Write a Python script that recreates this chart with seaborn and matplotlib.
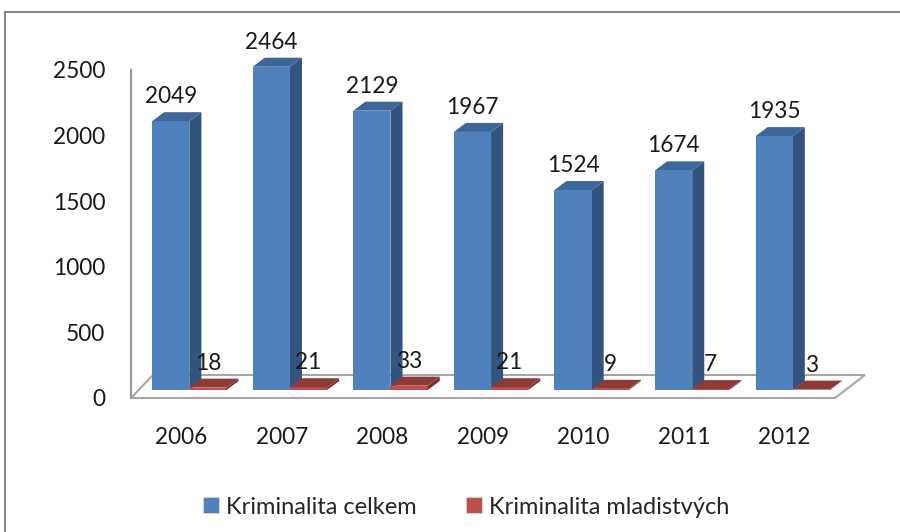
import pandas as pd
import seaborn as sns
import matplotlib.pyplot as plt
from matplotlib.patches import Polygon, Rectangle, Patch

# data
years = ["2006", "2007", "2008", "2009", "2010", "2011", "2012"]
celkem = [2049, 2464, 2129, 1967, 1524, 1674, 1935]
mladistvych = [18, 21, 33, 21, 9, 7, 3]
series = ["Kriminalita celkem", "Kriminalita mladistvých"]

df = pd.DataFrame({
    "rok": years * 2,
    "pocet": celkem + mladistvych,
    "rada": [series[0]] * len(years) + [series[1]] * len(years),
})

front = ["#4F81BD", "#C0504D"]
side = ["#325580", "#7E302E"]
top = ["#3D6699", "#8E3A37"]

sns.set_style("white")
plt.rcParams['font.family'] = ['Lato', 'DejaVu Sans']

fig = plt.figure(figsize=(9, 5.32), dpi=100)
ax = fig.add_axes([131 / 900, 1 - 398 / 532, 704 / 900, 328 / 532])

sns.barplot(data=df, x="rok", y="pocet", hue="rada", palette=front,
            width=0.74, gap=0, saturation=1, legend=False, ax=ax)

ax.set_ylim(0, 2500)
ax.set_xlim(-0.5, len(years) - 0.5)
ax.set_yticks(range(0, 2501, 500))
ax.set_xlabel("")
ax.set_ylabel("")

# fake 3D depth: bars sit mid-floor, with side and top faces
px = 2500 / 328
lift = 8 * px
dx = 0.12
dy = 9 * px
for i, cont in enumerate(ax.containers):
    for p in cont.patches:
        p.set_x(p.get_x() + 0.08)
        p.set_y(lift)
        p.set_zorder(3)
        p.set_edgecolor("none")
        p.set_clip_on(False)
        x, w = p.get_x(), p.get_width()
        y0, y1 = lift, lift + p.get_height()
        z = 2 if i == 0 else 3.5
        ax.add_patch(Polygon([(x + w, y0), (x + w + dx, y0 + dy), (x + w + dx, y1 + dy), (x + w, y1)],
                             closed=True, facecolor=side[i], edgecolor="none", zorder=z, clip_on=False))
        ax.add_patch(Polygon([(x, y1), (x + w, y1), (x + w + dx, y1 + dy), (x + dx, y1 + dy)],
                             closed=True, facecolor=top[i], edgecolor="none", zorder=z, clip_on=False))
    texts = ax.bar_label(cont, labels=[f"{v:.0f}" for v in cont.datavalues], padding=10,
                         fontsize=16.3, color="#1a1a1a")
    for t in texts:
        t.set_annotation_clip(False)
        t.set_clip_on(False)

# floor
ax.add_patch(Polygon([(0, 0), (1, 0), (1 + 30 / 704, 23 / 328), (22 / 704, 23 / 328)],
                     closed=True, transform=ax.transAxes, facecolor="white",
                     edgecolor="#A6A6A6", lw=1.5, zorder=0.5, clip_on=False))

for s in ["top", "right", "bottom"]:
    ax.spines[s].set_visible(False)
ax.spines["left"].set_color("#969696")
ax.spines["left"].set_linewidth(1.5)
ax.tick_params(axis="y", length=0, pad=18.5, labelsize=16.3, labelcolor="#1a1a1a")
ax.tick_params(axis="x", length=0, pad=21, labelsize=16.3, labelcolor="#1a1a1a")

handles = [Patch(facecolor=front[0], edgecolor="#dddddd", lw=0.5),
           Patch(facecolor=front[1], edgecolor="#dddddd", lw=0.5)]
fig.legend(handles, series, loc="center", bbox_to_anchor=(466 / 900, 1 - 507 / 532),
           ncol=2, frameon=False, fontsize=17, handlelength=0.68, handleheight=0.68,
           handletextpad=0.3, columnspacing=2.1, borderpad=0)

# outer chart border (only left and top visible in the reference)
fig.add_artist(Rectangle((5 / 900, -0.05), 2, 1 - 12 / 532 + 0.05, transform=fig.transFigure,
                         fill=False, edgecolor="#878787", lw=1.5))

plt.savefig("out.png", dpi=100)
